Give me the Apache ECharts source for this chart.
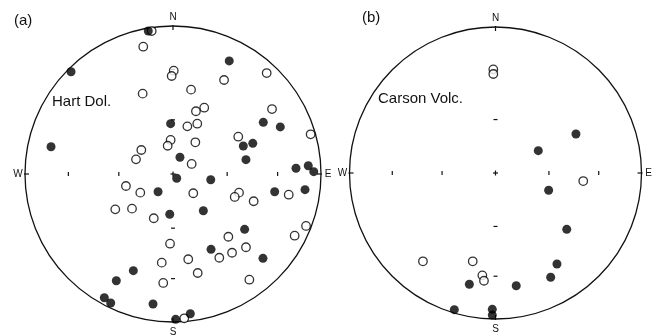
<!DOCTYPE html>
<html>
<head>
<meta charset="utf-8">
<script src="https://cdn.jsdelivr.net/npm/echarts@6/dist/echarts.min.js"></script>
<style>
  html, body { margin: 0; padding: 0; background: #fff; }
  #chart { width: 659px; height: 336px; }
</style>
</head>
<body>
<div id="chart"></div>
<script>
  // equal-area net, coordinates normalised to the primitive circle (radius 1)
  const hartFilled = [
    [-0.167, 0.966], [-0.689, 0.691], [0.380, 0.764], [-0.016, 0.340], [0.610, 0.349],
    [0.725, 0.318], [-0.824, 0.184], [0.475, 0.189], [0.539, 0.207], [0.047, 0.113],
    [0.493, 0.097], [0.831, 0.039], [0.914, 0.056], [0.951, 0.016], [0.025, -0.029],
    [0.255, -0.039], [-0.101, -0.120], [0.687, -0.120], [0.892, -0.106], [-0.022, -0.272],
    [0.205, -0.248], [0.484, -0.374], [0.257, -0.509], [0.608, -0.570], [-0.268, -0.653],
    [-0.383, -0.721], [-0.464, -0.836], [-0.421, -0.872], [-0.135, -0.878], [0.018, -0.982],
    [0.117, -0.944]
  ]
  const hartOpen = [
    [-0.144, 0.966], [-0.201, 0.860], [0.633, 0.682], [0.005, 0.698], [-0.009, 0.662],
    [0.345, 0.635], [0.122, 0.570], [-0.205, 0.543], [0.211, 0.448], [0.155, 0.424],
    [0.669, 0.439], [0.097, 0.322], [0.164, 0.340], [0.930, 0.268], [0.441, 0.252],
    [-0.016, 0.230], [-0.036, 0.191], [0.151, 0.214], [-0.214, 0.162], [-0.250, 0.099],
    [0.126, 0.068], [-0.318, -0.081], [-0.221, -0.126], [0.137, -0.130], [0.446, -0.126],
    [0.417, -0.155], [0.545, -0.184], [0.782, -0.140], [-0.390, -0.239], [-0.277, -0.234],
    [-0.130, -0.299], [0.374, -0.424], [0.899, -0.351], [0.822, -0.417], [-0.020, -0.471],
    [0.313, -0.566], [0.399, -0.532], [0.493, -0.495], [0.103, -0.576], [-0.076, -0.599],
    [0.167, -0.669], [-0.066, -0.736], [0.516, -0.714], [0.076, -0.975]
  ]
  const carsonFilled = [
    [0.551, 0.267], [0.293, 0.153], [0.364, -0.118], [0.488, -0.386], [0.421, -0.623],
    [0.378, -0.714], [-0.179, -0.762], [0.142, -0.772], [-0.282, -0.936], [-0.022, -0.934],
    [-0.022, -0.973]
  ]
  const carsonOpen = [
    [-0.015, 0.710], [-0.015, 0.678], [0.601, -0.055], [-0.497, -0.605], [-0.156, -0.605],
    [-0.090, -0.701], [-0.079, -0.738]
  ]
  // 30 and 60 degree marks on the equal-area net
  const netTicks = [0.366, 0.707]
  const panelLabels = ['(a)', '(b)']
  const siteNames = ['Hart Dol.', 'Carson Volc.']

  const ink = '#111'
  const font = '"Liberation Sans", Arial, sans-serif'

  const chart = echarts.init(document.getElementById('chart'), null, { renderer: 'canvas' })

  // primitive circle, tick marks and compass letters
  const renderNet = (params, api) => {
    const c = api.coord([0, 0])
    const r = api.size([1, 1])[0]
    const ls = { stroke: ink, lineWidth: 1.2 }
    const kids = [{ type: 'circle', shape: { cx: c[0], cy: c[1], r: r }, style: { fill: null, stroke: ink, lineWidth: 1.3 } }]
    const seg = (x1, y1, x2, y2) => kids.push({ type: 'line', shape: { x1, y1, x2, y2 }, style: ls })
    // edge ticks
    seg(c[0], c[1] - r - 1, c[0], c[1] - r + 4)
    seg(c[0], c[1] + r + 1, c[0], c[1] + r - 4)
    seg(c[0] - r - 1, c[1], c[0] - r + 4, c[1])
    seg(c[0] + r + 1, c[1], c[0] + r - 4, c[1])
    // inner ticks
    netTicks.forEach((t) => {
      const d = t * r
      seg(c[0] - d, c[1] - 2, c[0] - d, c[1] + 2)
      seg(c[0] + d, c[1] - 2, c[0] + d, c[1] + 2)
      seg(c[0] - 2, c[1] - d, c[0] + 2, c[1] - d)
      seg(c[0] - 2, c[1] + d, c[0] + 2, c[1] + d)
    })
    seg(c[0] - 2.5, c[1], c[0] + 2.5, c[1])
    seg(c[0], c[1] - 2.5, c[0], c[1] + 2.5)
    const txt = (s, x, y) => kids.push({
      type: 'text', x, y,
      style: { text: s, fill: ink, font: '10px ' + font, align: 'center', verticalAlign: 'middle' }
    })
    txt('N', c[0], c[1] - r - 9)
    txt('S', c[0], c[1] + r + 10)
    txt('W', c[0] - r - 7, c[1])
    txt('E', c[0] + r + 7, c[1])
    return { type: 'group', children: kids }
  }

  const axisOff = { type: 'value', min: -1, max: 1, show: false }
  const filledStyle = { color: '#000' }
  const openStyle = { color: '#fff', borderColor: '#000', borderWidth: 1.3 }

  chart.setOption({
    animation: false,
    backgroundColor: '#fff',
    grid: [
      { left: 25, top: 26, width: 296, height: 296 },
      { left: 349.5, top: 27, width: 292, height: 292 }
    ],
    xAxis: [{ ...axisOff, gridIndex: 0 }, { ...axisOff, gridIndex: 1 }],
    yAxis: [{ ...axisOff, gridIndex: 0 }, { ...axisOff, gridIndex: 1 }],
    graphic: [
      { type: 'text', left: 14, top: 13, style: { text: panelLabels[0], fill: ink, font: '15px ' + font } },
      { type: 'text', left: 362, top: 10, style: { text: panelLabels[1], fill: ink, font: '15px ' + font } },
      { type: 'text', left: 52, top: 94, style: { text: siteNames[0], fill: ink, font: '15px ' + font } },
      { type: 'text', left: 378, top: 91, style: { text: siteNames[1], fill: ink, font: '15px ' + font } }
    ],
    series: [
      { type: 'custom', xAxisIndex: 0, yAxisIndex: 0, data: [[0, 0]], renderItem: renderNet, silent: true },
      { type: 'custom', xAxisIndex: 1, yAxisIndex: 1, data: [[0, 0]], renderItem: renderNet, silent: true },
      { type: 'scatter', xAxisIndex: 0, yAxisIndex: 0, data: hartOpen, symbolSize: 8.5, itemStyle: openStyle },
      { type: 'scatter', xAxisIndex: 0, yAxisIndex: 0, data: hartFilled, symbolSize: 9, itemStyle: filledStyle },
      { type: 'scatter', xAxisIndex: 1, yAxisIndex: 1, data: carsonOpen, symbolSize: 8.5, itemStyle: openStyle },
      { type: 'scatter', xAxisIndex: 1, yAxisIndex: 1, data: carsonFilled, symbolSize: 9, itemStyle: filledStyle }
    ]
  })
</script>
</body>
</html>
